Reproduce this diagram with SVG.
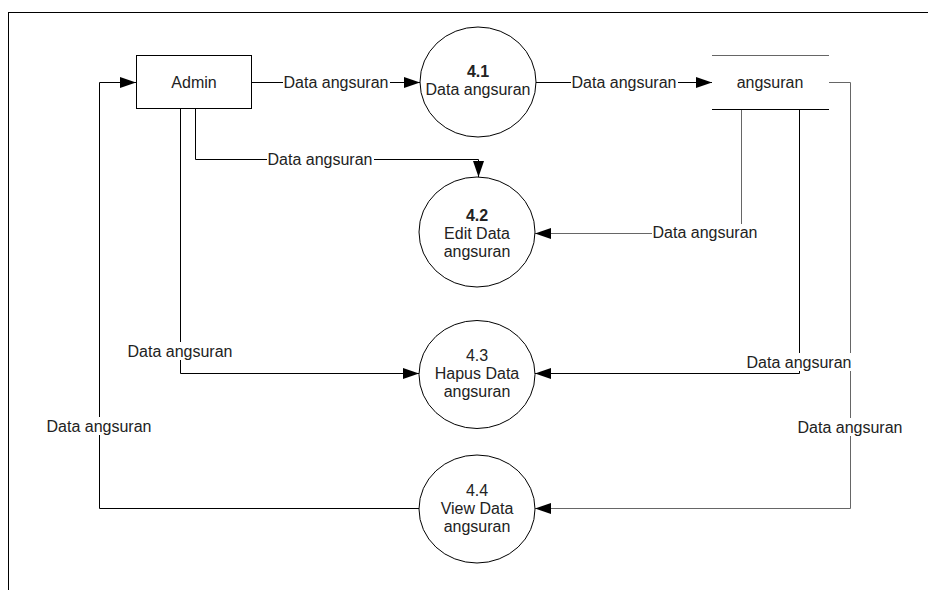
<svg xmlns="http://www.w3.org/2000/svg" width="928" height="590" viewBox="0 0 928 590">
<defs>
<marker id="arr" markerUnits="userSpaceOnUse" markerWidth="17" markerHeight="11" refX="16" refY="5.5" orient="auto">
<path d="M0,0 L16,5.5 L0,11 z" fill="#000"/>
</marker>
<style>
.ln{fill:none;stroke:#000;stroke-width:1}
.g{stroke:#666}
.t{font-family:"Liberation Sans",Arial,sans-serif;font-size:16px;fill:#222;text-anchor:middle}
.b{font-weight:bold}
.bg{fill:#fff}
.node{fill:#fff;stroke:#000;stroke-width:1}
</style>
</defs>
<rect x="0" y="0" width="928" height="590" fill="#fff"/>
<g id="frame">
<line class="ln" x1="8" y1="12.5" x2="928" y2="12.5"/>
<line class="ln" x1="8.5" y1="12" x2="8.5" y2="590"/>
</g>
<g id="connectors">
<path class="ln" d="M252,82.5 H420" marker-end="url(#arr)"/>
<path class="ln" d="M536,82.5 H712" marker-end="url(#arr)"/>
<path class="ln" d="M195.5,109 V159.5 H478.5 V177" marker-end="url(#arr)"/>
<path class="ln" d="M180.5,109 V373.5 H419" marker-end="url(#arr)"/>
<path class="ln g" d="M741.5,109 V233.5 H535" marker-end="url(#arr)"/>
<path class="ln" d="M799.5,109 V373.5 H535" marker-end="url(#arr)"/>
<path class="ln g" d="M829,82.5 H850.5 V508.5 H535" marker-end="url(#arr)"/>
<path class="ln" d="M419,508.5 H99.5 V82.5 H136" marker-end="url(#arr)"/>
<g id="labels">
<rect class="bg" x="283" y="73" width="107" height="18"/>
<text class="t" x="336" y="88">Data angsuran</text>
<rect class="bg" x="571" y="73" width="107" height="18"/>
<text class="t" x="624" y="88">Data angsuran</text>
<rect class="bg" x="267" y="150" width="107" height="18"/>
<text class="t" x="320" y="165">Data angsuran</text>
<rect class="bg" x="652" y="224" width="107" height="18"/>
<text class="t" x="705" y="238">Data angsuran</text>
<rect class="bg" x="127" y="342" width="107" height="18"/>
<text class="t" x="180" y="357">Data angsuran</text>
<rect class="bg" x="746" y="353" width="107" height="18"/>
<text class="t" x="799" y="368">Data angsuran</text>
<rect class="bg" x="46" y="417" width="107" height="18"/>
<text class="t" x="99" y="432">Data angsuran</text>
<rect class="bg" x="797" y="418" width="107" height="18"/>
<text class="t" x="850" y="433">Data angsuran</text>
</g>
</g>
<g id="admin">
<rect class="node" x="136.5" y="55.5" width="115" height="53"/>
<text class="t" x="194" y="88">Admin</text>
</g>
<g id="store-angsuran">
<line class="ln g" x1="712" y1="55.5" x2="829" y2="55.5"/>
<line class="ln" x1="712" y1="109.5" x2="829" y2="109.5"/>
<text class="t" x="770" y="88">angsuran</text>
</g>
<g id="p41">
<ellipse class="node" cx="478" cy="82" rx="58" ry="55"/>
<text class="t b" x="478" y="77">4.1</text>
<text class="t" x="478" y="95">Data angsuran</text>
</g>
<g id="p42">
<ellipse class="node" cx="477" cy="232" rx="58" ry="55"/>
<text class="t b" x="477" y="221">4.2</text>
<text class="t" x="477" y="239">Edit Data</text>
<text class="t" x="477" y="257">angsuran</text>
</g>
<g id="p43">
<ellipse class="node" cx="477" cy="374.5" rx="58" ry="54"/>
<text class="t" x="477" y="361">4.3</text>
<text class="t" x="477" y="379">Hapus Data</text>
<text class="t" x="477" y="397">angsuran</text>
</g>
<g id="p44">
<ellipse class="node" cx="477" cy="509" rx="58" ry="54"/>
<text class="t" x="477" y="496">4.4</text>
<text class="t" x="477" y="514">View Data</text>
<text class="t" x="477" y="532">angsuran</text>
</g>
</svg>
